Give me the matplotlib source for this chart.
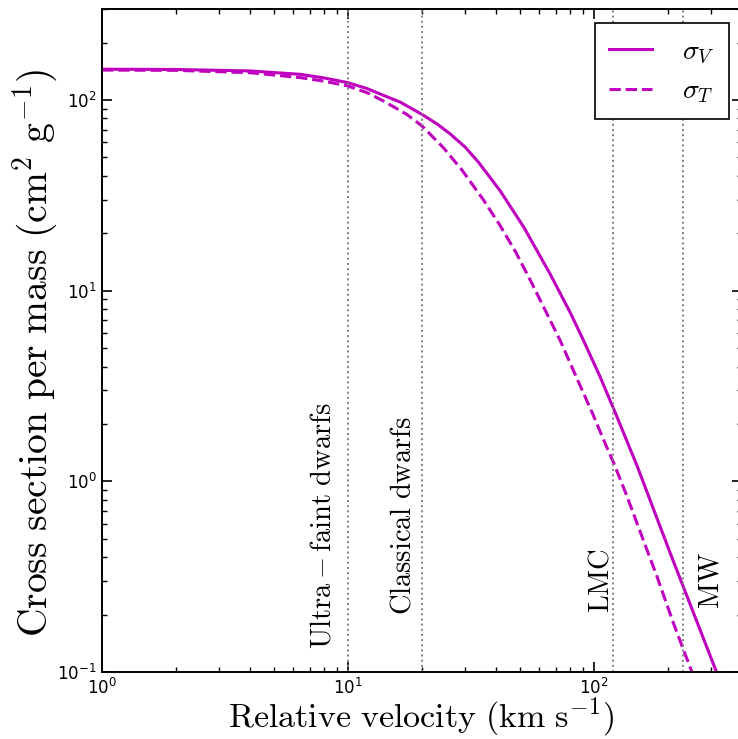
import numpy as np
import matplotlib
matplotlib.use('Agg')
import matplotlib.pyplot as plt

# values (velocity in km/s, cross section in cm^2/g)
v_sigma_V = [1, 2, 4, 6.4, 8, 10, 12, 14, 16.3, 20, 23, 26, 30, 34, 41.5, 52, 66.2, 80, 90,
             105.8, 123.7, 150, 175, 209.5, 260, 316, 340]
sigma_V = [145, 144.5, 142, 136.3, 130.5, 123.2, 114.6, 105.5, 97.5, 84, 74.9, 66.5, 56.5, 47, 33.5, 21.4,
           12.3, 7.7, 5.6, 3.55, 2.2, 1.2, 0.71, 0.386, 0.189, 0.099, 0.08]

v_sigma_T = [1, 2, 4, 6.4, 8, 10, 12, 14, 17.3, 20, 24.4, 29, 35.5, 41.5, 48, 56, 72.8, 85,
             99, 113, 120, 136, 164, 180, 210, 246, 260]
sigma_T = [143.5, 143, 139, 131, 125.5, 118.4, 109, 98.5, 84.2, 73.1, 56.3, 43.1, 30, 22, 16, 10.9,
           5.5, 3.5, 2.25, 1.5, 1.26, 0.84, 0.44, 0.32, 0.182, 0.106, 0.088]

system_names = [r'$\mathrm{Ultra-faint\ dwarfs}$', r'$\mathrm{Classical\ dwarfs}$',
                r'$\mathrm{LMC}$', r'$\mathrm{MW}$']
system_velocity = [10, 20, 120, 230]

# label placement (fraction of the line velocity, and bottom in data units)
label_shift = [0.79, 0.83, 0.885, 1.29]
label_bottom = [0.132, 0.199, 0.204, 0.213]

plt.rcParams['xtick.direction'] = 'in'
plt.rcParams['ytick.direction'] = 'in'
plt.rcParams['xtick.top'] = True
plt.rcParams['ytick.right'] = True

fig = plt.figure(figsize=(7.38, 7.39), dpi=100)
ax = fig.add_axes([102 / 738, 67 / 739, 640 / 738, 663 / 739])

ax.plot(v_sigma_V, sigma_V, color='m', linestyle='-', linewidth=2.2, label=r'$\sigma_V$')
ax.plot(v_sigma_T, sigma_T, color='m', linestyle='--', linewidth=2.2, label=r'$\sigma_T$')

for name, vel, shift, bottom in zip(system_names, system_velocity, label_shift, label_bottom):
    ax.axvline(vel, color='gray', linestyle=':', linewidth=1.4)
    ax.text(vel * shift, bottom, name, rotation=90, ha='center', va='bottom',
            fontsize=20.5, math_fontfamily='cm')

ax.set_xscale('log')
ax.set_yscale('log')
ax.set_xlim(1, 400)
ax.set_ylim(0.1, 300)

ax.tick_params(which='major', length=7, width=1.2, labelsize=12, pad=4)
ax.tick_params(which='minor', length=3.5, width=1)
for sp in ax.spines.values():
    sp.set_linewidth(1.4)

ax.set_xlabel(r'$\mathrm{Relative\ velocity\ (km\ s^{-1})}$', fontsize=24.5, math_fontfamily='cm')
ax.set_ylabel(r'$\mathrm{Cross\ section\ per\ mass\ (cm^2\ g^{-1})}$', fontsize=28.5, math_fontfamily='cm')
ax.xaxis.set_label_coords(0.498, -0.036)
ax.yaxis.set_label_coords(-0.066, 0.482)

leg = ax.legend(loc='upper right', prop={'size': 20, 'math_fontfamily': 'cm'},
                fancybox=False, edgecolor='black', framealpha=1, handlelength=1.55,
                handletextpad=1.1, borderpad=0.5, labelspacing=0.4, borderaxespad=0,
                bbox_to_anchor=(0.9797, 0.9789))
leg.get_frame().set_linewidth(1.2)

plt.savefig('out.png', dpi=100)
